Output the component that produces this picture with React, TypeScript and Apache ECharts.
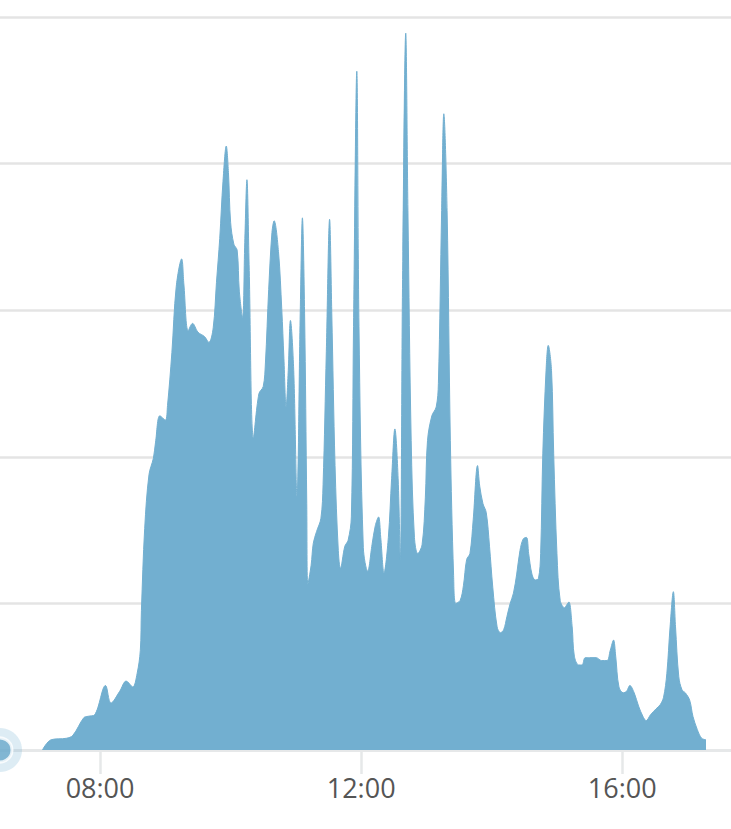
import React, { useEffect, useRef } from "react";
import * as echarts from "echarts";

const times: string[] = [
  "07:07","07:15","07:29","07:35","07:45","07:49","07:55","08:05","08:10","08:18",
  "08:24","08:30","08:34","08:37","08:38","08:41","08:45","08:49","08:51","08:55",
  "09:00","09:02","09:06","09:10","09:15","09:17","09:21","09:25","09:30","09:36",
  "09:40","09:44","09:47","09:50","09:53","09:56","09:58","10:00","10:03","10:06",
  "10:08","10:11","10:13","10:15","10:17","10:21","10:26","10:30","10:32","10:35",
  "10:38","10:40","10:44","10:47","10:49","10:51","10:53","10:55","10:58","11:01",
  "11:04","11:06","11:08","11:10","11:11","11:14","11:16","11:19","11:23","11:25",
  "11:28","11:31","11:33","11:36","11:39","11:41","11:45","11:48","11:51","11:53",
  "11:56","11:58","12:02","12:06","12:10","12:13","12:16","12:18","12:21","12:25",
  "12:28","12:31","12:34","12:36","12:38","12:41","12:43","12:46","12:49","12:52",
  "12:56","12:59","13:01","13:05","13:09","13:11","13:14","13:16","13:19","13:22",
  "13:25","13:27","13:31","13:34","13:37","13:40","13:43","13:47","13:49","13:52",
  "13:55","13:58","14:01","14:05","14:08","14:11","14:14","14:17","14:20","14:23",
  "14:26","14:29","14:32","14:34","14:37","14:40","14:43","14:45","14:47","14:50",
  "14:52","14:55","14:57","15:00","15:03","15:07","15:09","15:11","15:14","15:16",
  "15:20","15:23","15:26","15:30","15:36","15:41","15:46","15:49","15:52","15:54",
  "15:57","16:01","16:04","16:07","16:11","16:15","16:19","16:22","16:26","16:31",
  "16:35","16:38","16:41","16:44","16:47","16:49","16:52","16:55","16:58","17:02",
  "17:05","17:09","17:13","17:17",
];

const values: number[] = [
  0,7,8,10,22,23,24,44,32,40,
  47,43,52,68,95,151,188,199,210,228,
  225,235,271,316,335,318,286,291,285,282,
  278,288,319,349,388,412,394,360,345,341,
  313,295,346,389,331,213,243,248,264,314,
  353,361,340,301,267,234,259,293,259,173,
  298,363,298,168,113,126,141,149,158,181,
  272,362,298,194,136,124,139,143,159,289,
  463,289,138,122,140,153,159,145,121,145,
  185,219,185,130,315,489,368,211,145,134,
  140,172,211,228,234,250,368,434,368,211,
  119,100,102,112,130,134,157,194,180,168,
  162,139,111,84,80,82,91,100,107,120,
  136,144,145,134,120,116,117,134,202,259,
  276,259,202,134,102,97,99,101,84,64,
  58,58,63,63,63,61,61,68,75,64,
  43,39,40,44,39,30,23,20,24,28,
  31,36,52,84,108,84,50,41,39,34,
  23,14,8,7,
];

const xTickLabels: string[] = ["08:00", "12:00", "16:00"];
const axisStart = "06:28";
const axisEnd = "17:40";
const yMax = 500;
const yInterval = 100;

const toMin = (s: string) => {
  const [h, m] = s.split(":").map(Number);
  return h * 60 + m;
};
const fmt = (v: number) => {
  const h = Math.floor(v / 60);
  const m = Math.round(v % 60);
  return String(h).padStart(2, "0") + ":" + String(m).padStart(2, "0");
};

const MAIN = "#72afd0";

export default function App() {
  const ref = useRef<HTMLDivElement>(null);
  useEffect(() => {
    document.body.style.margin = "0";
    if (!ref.current) return;
    const chart = echarts.init(ref.current, undefined, { renderer: "svg" });
    const tickVals = xTickLabels.map(toMin);
    chart.setOption({
      animation: false,
      grid: { left: 0, right: 0, top: 17, bottom: 79 },
      xAxis: {
        type: "value",
        min: toMin(axisStart),
        max: toMin(axisEnd),
        axisLine: { show: true, lineStyle: { color: "#e6e8e9", width: 3 } },
        axisTick: {
          show: true,
          customValues: tickVals,
          length: 24,
          lineStyle: { color: "#e6e8e9", width: 2.5 },
        },
        axisLabel: {
          customValues: tickVals,
          formatter: (v: number) => fmt(v),
          color: "#555555",
          fontFamily: "Open Sans",
          fontSize: 27,
          lineHeight: 27,
          margin: 24,
        },
        splitLine: { show: false },
      },
      yAxis: {
        type: "value",
        min: 0,
        max: yMax,
        interval: yInterval,
        axisLine: { show: false },
        axisTick: { show: false },
        axisLabel: { show: false },
        splitLine: { show: true, lineStyle: { color: "#e4e4e4", width: 2.5 } },
      },
      series: [
        {
          type: "line",
          data: times.map((t, i) => [toMin(t), values[i]]),
          smooth: 0.35,
          showSymbol: false,
          lineStyle: { color: MAIN, width: 1 },
          areaStyle: { color: MAIN, opacity: 1 },
          z: 2,
        },
        {
          type: "scatter",
          data: [[toMin(axisStart), 0]],
          symbolSize: 44,
          clip: false,
          itemStyle: { color: "rgba(114,175,208,0.3)" },
          z: 5,
          silent: true,
        },
        {
          type: "scatter",
          data: [[toMin(axisStart), 0]],
          symbolSize: 24,
          clip: false,
          itemStyle: { color: "#6aa9cb", borderColor: "#ffffff", borderWidth: 3 },
          z: 6,
          silent: true,
        },
      ],
    });
    return () => chart.dispose();
  }, []);
  return <div ref={ref} style={{ width: 731, height: 829 }} />;
}
